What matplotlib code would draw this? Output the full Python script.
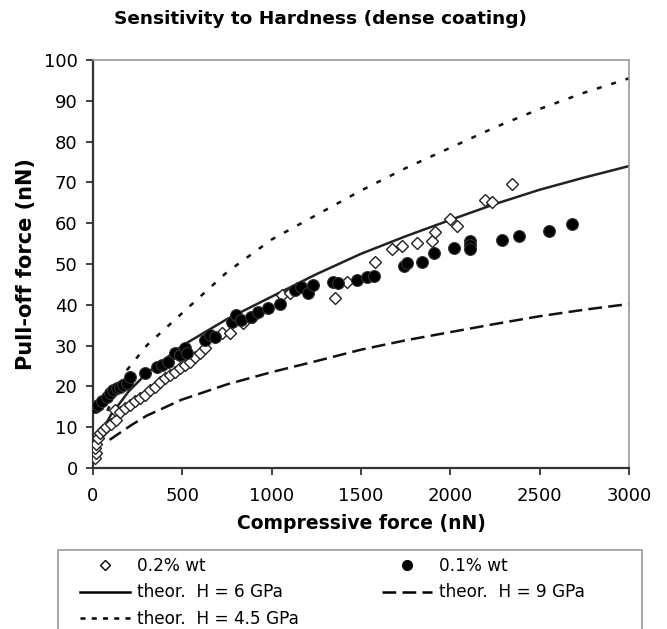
import numpy as np
import matplotlib
matplotlib.use('Agg')
import matplotlib.pyplot as plt
from matplotlib.lines import Line2D
from matplotlib.patches import Rectangle

plt.rcParams['font.family'] = 'DejaVu Sans'

# 0.2% wt (open diamonds)
wt02_x = [9, 18, 13, 18, 28, 37, 56, 75, 103, 130, 121, 149, 177, 205, 233, 261, 289, 317,
          345, 373, 401, 429, 457, 485, 513, 541, 569, 597, 625, 720, 767, 841, 897,
          1056, 1103, 1140, 1170, 1354, 1420, 1576, 1672, 1728, 1811, 1895, 1914,
          1998, 2037, 2194, 2235, 2343]
wt02_y = [2.4, 3.6, 4.8, 6.0, 7.3, 8.5, 9.3, 10.1, 10.9, 11.8, 14.2, 13.8, 14.6, 15.4, 16.3,
          17.1, 17.9, 19.1, 19.9, 21.2, 22.0, 22.8, 23.6, 24.4, 25.2, 26.1, 27.3, 28.1,
          29.3, 33.0, 33.0, 35.5, 37.1, 42.4, 42.8, 44.0, 44.5, 41.7, 45.5, 50.6, 53.6,
          54.4, 55.1, 55.6, 57.8, 61.0, 59.2, 65.7, 65.1, 69.6]

# 0.1% wt (filled circles)
wt01_x = [11, 30, 50, 76, 95, 113, 135, 151, 170, 188, 207, 291, 356, 384, 421, 459, 487,
          515, 524, 627, 655, 683, 776, 801, 829, 885, 923, 979, 1044, 1128, 1166,
          1203, 1233, 1345, 1373, 1476, 1532, 1573, 1741, 1755, 1843, 1910, 2022,
          2112, 2112, 2112, 2287, 2387, 2552, 2681]
wt01_y = [15.0, 15.5, 16.5, 17.5, 18.3, 19.1, 19.5, 19.9, 20.3, 20.8, 22.4, 23.2, 24.8, 25.2,
          26.1, 28.1, 27.7, 29.3, 28.1, 31.4, 32.6, 32.0, 35.9, 37.5, 36.3, 37.1, 38.3,
          39.1, 40.2, 43.6, 44.4, 42.8, 44.9, 45.7, 45.3, 46.2, 46.9, 47.1, 49.5, 50.2,
          50.6, 52.6, 53.8, 55.7, 54.7, 53.6, 55.9, 56.9, 58.1, 59.8]

# theoretical curves
h6_x = [20, 50, 100, 200, 300, 500, 750, 1000, 1250, 1500, 1750, 2000, 2250, 2500, 2750, 3000]
h6_y = [5.0, 9.0, 13.0, 18.8, 23.2, 30.0, 36.5, 42.0, 47.5, 52.5, 56.8, 60.8, 64.7, 68.2, 71.2, 74.0]

h45_x = [80, 190, 300, 500, 750, 1000, 1250, 1500, 1750, 2000, 2250, 2500, 2750, 3000]
h45_y = [14.0, 24.0, 30.0, 38.0, 48.0, 56.0, 62.0, 68.0, 73.5, 78.5, 83.5, 88.0, 92.0, 95.5]

h9_x = [93, 214, 300, 494, 750, 1000, 1250, 1500, 1750, 2000, 2250, 2500, 2750, 3000]
h9_y = [6.9, 10.5, 12.8, 16.7, 20.5, 23.5, 26.2, 29.0, 31.3, 33.3, 35.3, 37.2, 38.8, 40.2]

W, H = 667, 629
fig = plt.figure(figsize=(W / 100, H / 100), dpi=100)
ax = fig.add_axes([93 / W, 1 - 468 / H, 536 / W, 408 / H])

ax.plot(h6_x, h6_y, color='#222222', linewidth=1.8, zorder=2)
ax.plot(h45_x, h45_y, color='#111111', linewidth=1.8, dashes=(2, 4), zorder=2)
ax.plot(h9_x, h9_y, color='#111111', linewidth=1.8, dashes=(5.5, 2.5), zorder=2)

ax.plot(wt02_x, wt02_y, linestyle='none', marker='D', markersize=6,
        markerfacecolor='white', markeredgecolor='#222222', markeredgewidth=1.0, zorder=3)
ax.plot(wt01_x, wt01_y, linestyle='none', marker='o', markersize=8.5,
        markerfacecolor='black', markeredgecolor='#333333', markeredgewidth=0.8, zorder=4)

ax.set_xlim(0, 3000)
ax.set_ylim(0, 100)
ax.set_xticks(np.arange(0, 3001, 500))
ax.set_yticks(np.arange(0, 101, 10))
ax.tick_params(direction='out', length=5, width=1.3, labelsize=13, color='#333333')
ax.tick_params(axis='x', pad=9)
ax.tick_params(axis='y', pad=6)

for side in ['left', 'bottom']:
    ax.spines[side].set_color('#333333')
    ax.spines[side].set_linewidth(1.6)
for side in ['top', 'right']:
    ax.spines[side].set_color('#999999')
    ax.spines[side].set_linewidth(1.2)

ax.set_xlabel('Compressive force (nN)', fontsize=13.5, fontweight='bold', labelpad=6)
ax.set_ylabel('Pull-off force (nN)', fontsize=15, fontweight='bold', labelpad=6)
fig.text(320 / W, 1 - 19 / H, 'Sensitivity to Hardness (dense coating)', fontsize=13.3,
         fontweight='bold', ha='center', va='center')

# legend box (cut by the bottom edge, as in the original)
fig.patches.append(Rectangle((58 / W, -0.05), 584 / W, 0.05 + (H - 550) / H,
                             transform=fig.transFigure, facecolor='white',
                             edgecolor='#999999', linewidth=1.2, zorder=0))

handles = [
    Line2D([], [], linestyle='none', marker='D', markersize=5, markerfacecolor='white',
           markeredgecolor='black', markeredgewidth=1.0),
    Line2D([], [], color='black', linewidth=1.8),
    Line2D([], [], color='black', linewidth=1.8, dashes=(2, 2.5)),
    Line2D([], [], linestyle='none', marker='o', markersize=7, markerfacecolor='black',
           markeredgecolor='black'),
    Line2D([], [], color='black', linewidth=1.8, dashes=(5.5, 2.5)),
]
labels = ['0.2% wt', 'theor.  H = 6 GPa', 'theor.  H = 4.5 GPa', '0.1% wt', 'theor.  H = 9 GPa']
leg = fig.legend(handles, labels, ncol=2, loc='upper left',
                 bbox_to_anchor=(80 / W, 1 - 557 / H),
                 fontsize=12.2, frameon=False, handlelength=2.96,
                 handletextpad=0.4, labelspacing=0.5, columnspacing=4.9,
                 borderpad=0, borderaxespad=0)

plt.savefig('out.png', dpi=100, facecolor='white')
